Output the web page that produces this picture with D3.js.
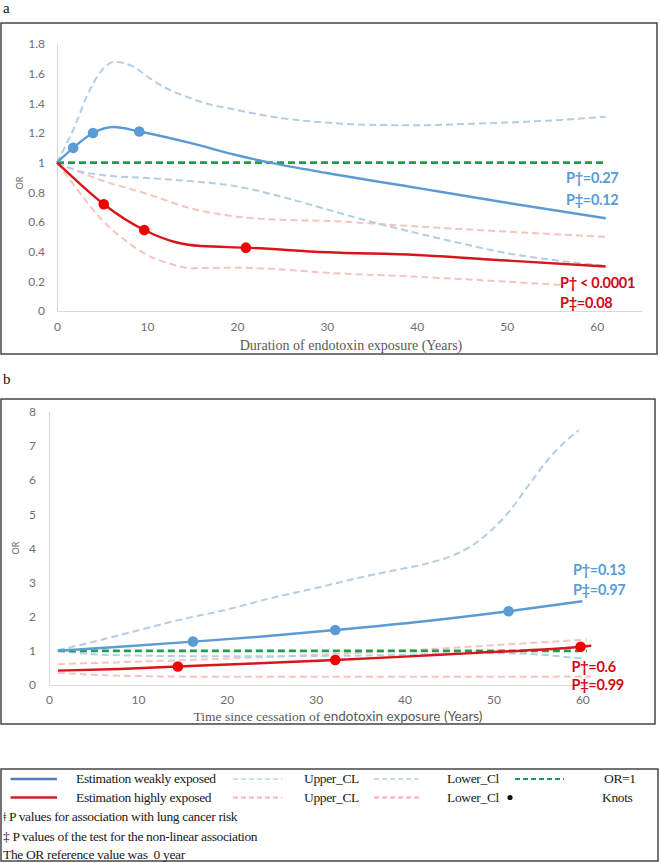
<!DOCTYPE html>
<html><head><meta charset="utf-8">
<script src="https://cdn.jsdelivr.net/npm/d3@7"></script>
<style>body{margin:0;background:#fff}</style>
</head><body><svg id="c" width="660" height="863"></svg>
<script>
// ---------- DATA ----------
const xTicks = [0, 10, 20, 30, 40, 50, 60];
const yTicksA = [0, 0.2, 0.4, 0.6, 0.8, 1, 1.2, 1.4, 1.6, 1.8];
const yTicksB = [0, 1, 2, 3, 4, 5, 6, 7, 8];

// Panel a: duration of exposure
const aWeakEst = [[0,1],[1.8,1.10],[4,1.20],[6.3,1.24],[9.15,1.21],[15,1.13],[20,1.05],[23.7,1.0],[30,0.93],[40,0.83],[50,0.73],[61,0.625]];
const aWeakUpper = [[0,1],[1,1.12],[1.8,1.22],[3.3,1.445],[4.8,1.61],[6.4,1.68],[8.5,1.647],[10.3,1.57],[12.2,1.50],[14.4,1.445],[16,1.41],[20,1.355],[25,1.30],[30,1.27],[35,1.255],[40,1.252],[45,1.26],[50,1.27],[55,1.285],[61,1.31]];
const aWeakLower = [[0,1],[2,0.95],[5,0.917],[10,0.897],[15,0.875],[20,0.84],[25,0.77],[30,0.685],[35,0.60],[40,0.525],[45,0.455],[50,0.39],[55,0.345],[61,0.305]];
const aHighEst = [[0,1],[2.5,0.86],[5.2,0.72],[9.7,0.546],[13,0.467],[16,0.438],[21,0.427],[30,0.396],[40,0.378],[50,0.34],[61,0.30]];
const aHighUpper = [[0,1],[2,0.95],[5,0.88],[10,0.79],[15,0.69],[20,0.636],[25,0.615],[30,0.607],[40,0.57],[50,0.535],[61,0.50]];
const aHighLower = [[0,1],[1,0.92],[2.5,0.80],[5,0.614],[7.5,0.48],[10,0.378],[12.5,0.32],[15,0.288],[20,0.292],[25,0.28],[30,0.258],[40,0.231],[50,0.198],[56,0.175]];
const aRef = [[0,1],[60.7,1]];
const aWeakKnots = [[1.8,1.10],[4,1.20],[9.15,1.21]];
const aHighKnots = [[5.2,0.72],[9.7,0.546],[21,0.427]];
const aPWeak = ["P†=0.27", "P‡=0.12"];
const aPHigh = ["P† < 0.0001", "P‡=0.08"];

// Panel b: time since cessation
const bWeakEst = [[1,1.0],[8,1.12],[16.2,1.27],[24,1.42],[32.2,1.61],[42,1.86],[51.7,2.16],[60,2.45]];
const bWeakUpper = [[1,1.02],[5.7,1.31],[9.9,1.59],[14.9,1.92],[19.9,2.20],[24.9,2.54],[29.9,2.83],[35.4,3.17],[39.1,3.37],[42.9,3.58],[45.1,3.76],[47.4,4.05],[49.6,4.49],[51.9,5.12],[54.1,5.90],[56.4,6.68],[59.6,7.46]];
const bWeakLower = [[1,1.0],[5,0.9],[10,0.86],[20,0.84],[30,0.85],[40,0.88],[48,0.93],[53,0.92],[57,0.85],[60,0.77]];
const bHighEst = [[1,0.42],[8,0.47],[14.5,0.54],[23,0.63],[32.2,0.73],[40,0.83],[48,0.94],[55,1.03],[59.8,1.12],[61,1.15]];
const bHighUpper = [[1,0.61],[9.5,0.68],[20.7,0.78],[31.6,0.9],[42.9,1.05],[50.4,1.17],[60.5,1.33]];
const bHighLower = [[1,0.36],[5,0.30],[10,0.26],[20,0.24],[30,0.24],[40,0.24],[50,0.24],[61,0.25]];
const bRef = [[1,1],[60.5,1]];
const bWeakKnots = [[16.2,1.27],[32.2,1.61],[51.7,2.16]];
const bHighKnots = [[14.5,0.54],[32.2,0.73],[59.8,1.12]];
const bPWeak = ["P†=0.13", "P‡=0.97"];
const bPHigh = ["P†=0.6", "P‡=0.99"];

const legendRow1 = ["Estimation weakly exposed", "Upper_CL", "Lower_Cl", "OR=1"];
const legendRow2 = ["Estimation highly exposed", "Upper_CL", "Lower_Cl", "Knots"];
const footnotes = ["ǂ P values for association with lung cancer risk",
  "‡ P values of the test for the non-linear association",
  "The OR reference value was\u00a0\u00a00 year"];

// ---------- STYLE ----------
const C = {
  blue: "#5b9bd5", red: "#d9141b", redKnot: "#f00000",
  blueCL: "#b3cde4", redCL: "#f5c4bf", green: "#1e9e4c",
  axis: "#d9d9d9", tick: "#6f6f6f", border: "#454545"
};
const sans = "Lato, 'Open Sans', sans-serif";
const serif = "'Liberation Serif', 'Times New Roman', serif";

const svg = d3.select("#c");

function panel(cfg) {
  const g = svg.append("g");
  g.append("rect").attr("x", cfg.box[0]).attr("y", cfg.box[1]).attr("width", cfg.box[2]).attr("height", cfg.box[3])
    .attr("fill", "none").attr("stroke", C.border).attr("stroke-width", 1.5);
  svg.append("text").attr("x", 3).attr("y", cfg.letterY).text(cfg.letter)
    .attr("font-family", serif).attr("font-size", 15).attr("fill", "#111");

  const x = d3.scaleLinear().domain(cfg.xd).range(cfg.xr);
  const y = d3.scaleLinear().domain(cfg.yd).range(cfg.yr);

  const xa = g.append("g").attr("transform", `translate(0,${cfg.yr[0]})`)
    .call(d3.axisBottom(x).tickValues(xTicks).tickSize(0).tickSizeOuter(0).tickPadding(cfg.xPad));
  const ya = g.append("g").attr("transform", `translate(${cfg.xr[0]},0)`)
    .call(d3.axisLeft(y).tickValues(cfg.yTicks).tickSize(0).tickSizeOuter(0).tickPadding(cfg.yPad)
      .tickFormat(d => String(+d.toFixed(1))));
  [xa, ya].forEach(a => {
    a.select(".domain").attr("stroke", C.axis).attr("stroke-width", 1.2);
    a.selectAll("text").attr("font-family", sans).attr("font-size", 12).attr("fill", C.tick);
  });

  g.append("text").attr("transform", `translate(${cfg.orPos[0]},${cfg.orPos[1]}) rotate(-90)`)
    .attr("text-anchor", "middle").attr("dy", "0.35em").text("OR")
    .attr("font-family", sans).attr("font-size", 9).attr("fill", C.tick);

  const t = g.append("text").attr("x", cfg.titleX).attr("y", cfg.titleY).attr("text-anchor", "middle")
    .attr("fill", "#595959").attr("font-size", cfg.titleSize);
  cfg.title.forEach(p => t.append("tspan").attr("font-family", p[1] === "serif" ? serif : sans).text(p[0]));

  const line = d3.line().x(d => x(d[0])).y(d => y(d[1])).curve(d3.curveMonotoneX);
  const draw = (data, color, w, dash) => g.append("path").datum(data).attr("d", line)
    .attr("fill", "none").attr("stroke", color).attr("stroke-width", w)
    .attr("stroke-dasharray", dash || null).attr("stroke-linecap", "butt");

  draw(cfg.highUpper, C.redCL, 2, "7,4");
  draw(cfg.highLower, C.redCL, 2, "7,4");
  draw(cfg.weakUpper, C.blueCL, 2, "7,4");
  draw(cfg.weakLower, C.blueCL, 2, "7,4");
  draw(cfg.ref, C.green, 2.6, "7,4");
  draw(cfg.weakEst, C.blue, 2.4);
  draw(cfg.highEst, C.red, 2.4);

  g.selectAll(null).data(cfg.weakKnots).join("circle")
    .attr("cx", d => x(d[0])).attr("cy", d => y(d[1])).attr("r", 5.3).attr("fill", C.blue);
  g.selectAll(null).data(cfg.highKnots).join("circle")
    .attr("cx", d => x(d[0])).attr("cy", d => y(d[1])).attr("r", 5.3).attr("fill", C.redKnot);

  const pl = (arr, pos, color) => arr.forEach((s, i) => g.append("text")
    .attr("x", pos[0]).attr("y", pos[1] + i * pos[2]).text(s)
    .attr("font-family", sans).attr("font-weight", 700).attr("font-size", 14.5)
    .attr("letter-spacing", "-0.3").attr("fill", color));
  pl(cfg.pWeak, cfg.pWeakPos, C.blue);
  pl(cfg.pHigh, cfg.pHighPos, "#cf0a14");
}

panel({
  letter: "a", letterY: 13, box: [1, 23, 656, 331],
  xd: [0, 65], xr: [57, 641.7], yd: [0, 1.8], yr: [311, 44],
  yTicks: yTicksA, xPad: 11, yPad: 12, orPos: [20, 183],
  title: [["Duration of endotoxin exposure (Years)", "serif"]], titleX: 351, titleY: 350, titleSize: 14,
  weakEst: aWeakEst, weakUpper: aWeakUpper, weakLower: aWeakLower,
  highEst: aHighEst, highUpper: aHighUpper, highLower: aHighLower, ref: aRef,
  weakKnots: aWeakKnots, highKnots: aHighKnots,
  pWeak: aPWeak, pWeakPos: [566, 183, 22], pHigh: aPHigh, pHighPos: [560, 288, 20]
});

panel({
  letter: "b", letterY: 384, box: [1, 399, 654, 325],
  xd: [0, 60.6], xr: [49, 587.7], yd: [0, 8], yr: [685, 411.7],
  yTicks: yTicksB, xPad: 10, yPad: 13, orPos: [16, 548],
  title: [["Time since cessation of ", "serif"], ["endotoxin exposure (Years)", "sans"]], titleX: 338, titleY: 720.5, titleSize: 13.5,
  weakEst: bWeakEst, weakUpper: bWeakUpper, weakLower: bWeakLower,
  highEst: bHighEst, highUpper: bHighUpper, highLower: bHighLower, ref: bRef,
  weakKnots: bWeakKnots, highKnots: bHighKnots,
  pWeak: bPWeak, pWeakPos: [573, 574.5, 20.5], pHigh: bPHigh, pHighPos: [571.5, 671.5, 18.5]
});

// ---------- LEGEND ----------
const lg = svg.append("g");
lg.append("rect").attr("x", 1).attr("y", 769).attr("width", 657).attr("height", 92)
  .attr("fill", "none").attr("stroke", C.border).attr("stroke-width", 1.5);
const rowY = [779, 797.5, 817, 836.5, 855];
const textX = [76, 304, 447, 604];
const samples = [
  [[10.5, 57, "#4f7fc0", 2.5, null], [233, 282, "#c6e4f0", 1.8, "5,3"], [374, 421, "#c8dcee", 1.8, "5,3"], [515, 564, C.green, 2.2, "5,3"]],
  [[10.5, 57, "#c8242b", 2.5, null], [233, 282, "#f2bcb4", 1.8, "5,3"], [374, 421, "#f3adad", 1.8, "5,3"]]
];
const legendFont = (sel) => sel.attr("font-family", serif).attr("font-size", 13.5)
  .attr("letter-spacing", "-0.35").attr("fill", "#1a1a1a");
[legendRow1, legendRow2].forEach((row, r) => {
  samples[r].forEach(s => lg.append("line").attr("x1", s[0]).attr("x2", s[1]).attr("y1", rowY[r]).attr("y2", rowY[r])
    .attr("stroke", s[2]).attr("stroke-width", s[3]).attr("stroke-dasharray", s[4]));
  row.forEach((txt, i) => legendFont(lg.append("text").attr("x", textX[i] - (r === 1 && i === 3 ? 2 : 0))
    .attr("y", rowY[r]).attr("dy", "0.33em").text(txt)));
});
lg.append("circle").attr("cx", 510).attr("cy", rowY[1]).attr("r", 2.6).attr("fill", "#111");
footnotes.forEach((txt, i) => legendFont(lg.append("text").attr("x", 3).attr("y", rowY[i + 2]).attr("dy", "0.33em").text(txt)));
</script></body></html>
